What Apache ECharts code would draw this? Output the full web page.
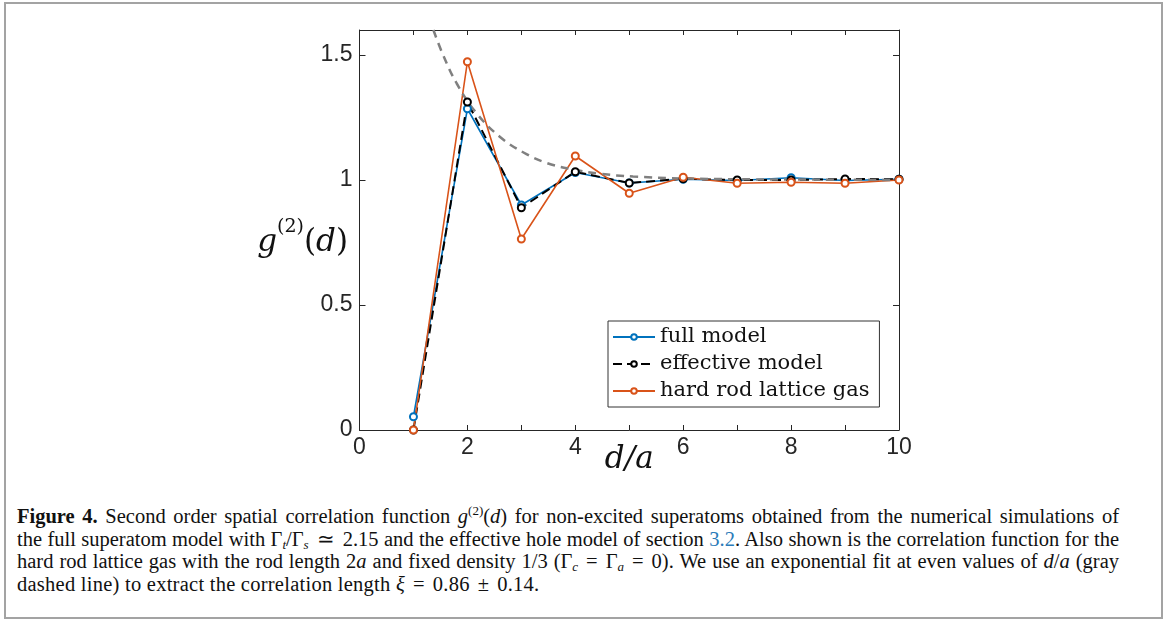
<!DOCTYPE html>
<html>
<head>
<meta charset="utf-8">
<script src="https://cdn.jsdelivr.net/npm/echarts@6/dist/echarts.min.js"></script>
<style>
  html, body { margin: 0; padding: 0; background: #fff; }
  #frame {
    position: absolute; left: 4px; top: 2px; width: 1155px; height: 613px;
    border: 2px solid #a3a3a3;
  }
  #chart { position: absolute; left: 0; top: 0; width: 1168px; height: 490px; }
  #caption {
    position: absolute; left: 17px; top: 505px; width: 1102px;
    font-family: "Liberation Serif", serif; font-size: 20.5px; line-height: 22.6px; color: #111;
  }
  #caption .ln { white-space: nowrap; letter-spacing: 0.25px; }
  #caption .j { text-align: justify; text-align-last: justify; white-space: normal; letter-spacing: 0; word-spacing: -2px; }
  #caption sup, #caption sub { font-size: 13px; line-height: 0; position: relative; vertical-align: baseline; }
  #caption sup { top: -8px; }
  #caption sub { top: 3px; }
  #caption .ref { color: #2b7bb9; }
  #caption .op { margin: 0 5px; }
  #caption .ln .op { margin: 0 8px; }
</style>
</head>
<body>
<div id="frame"></div>
<div id="chart"></div>
<div id="caption">
  <div class="ln j"><b>Figure 4.</b> Second order spatial correlation function <i>g</i><sup>(2)</sup>(<i>d</i>) for non-excited superatoms obtained from the numerical simulations of</div>
  <div class="ln j">the full superatom model with Γ<sub><i>t</i></sub>/Γ<sub><i>s</i></sub><span class="op">≃</span>2.15 and the effective hole model of section <span class="ref">3.2</span>. Also shown is the correlation function for the</div>
  <div class="ln j">hard rod lattice gas with the rod length 2<i>a</i> and fixed density 1/3 (Γ<sub><i>c</i></sub><span class="op">=</span>Γ<sub><i>a</i></sub><span class="op">=</span>0). We use an exponential fit at even values of <i>d</i>/<i>a</i> (gray</div>
  <div class="ln">dashed line) to extract the correlation length <i>ξ</i><span class="op">=</span>0.86<span class="op">±</span>0.14.</div>
</div>
<script>
// distances d/a
const dist = [1, 2, 3, 4, 5, 6, 7, 8, 9, 10];
// g2 values
const fullModel = [0.053, 1.285, 0.900, 1.030, 0.988, 1.003, 0.998, 1.009, 0.998, 1.003];
const effectiveModel = [0.0, 1.312, 0.889, 1.033, 0.988, 1.005, 1.000, 1.000, 1.004, 1.003];
const hardRod = [0.0, 1.473, 0.764, 1.096, 0.947, 1.011, 0.987, 0.991, 0.987, 1.000];
// gray dashed exponential fit
const fitX = [1.37, 1.55, 1.80, 2.17, 2.60, 3.04, 3.47, 3.96, 4.46, 5.07, 6, 7, 8, 9, 10];
const fitY = [1.600, 1.500, 1.387, 1.267, 1.173, 1.110, 1.068, 1.042, 1.025, 1.014, 1.006, 1.003, 1.002, 1.001, 1.000];
const yTicks = [0, 0.5, 1, 1.5];

const pairs = (xs, ys) => xs.map((x, i) => [x, ys[i]]);

const axisColor = '#262626';
const tickFont = { color: axisColor, fontFamily: 'Liberation Sans', fontSize: 23 };

const myChart = echarts.init(document.getElementById('chart'));
const option = {
  backgroundColor: 'transparent',
  animation: false,
  grid: { left: 359.5, right: 269, top: 30, bottom: 60, containLabel: false, outerBoundsMode: 'none' },
  xAxis: [
    {
      type: 'value', min: 0, max: 10, interval: 1, position: 'bottom',
      name: 'd/a', nameLocation: 'middle', nameGap: 14, nameMoveOverlap: false,
      nameTextStyle: { fontFamily: 'DejaVu Serif', fontStyle: 'italic', fontSize: 31, color: '#111' },
      axisLine: { onZero: false, lineStyle: { color: axisColor, width: 1 } },
      axisTick: { inside: true, length: 5, lineStyle: { color: axisColor } },
      axisLabel: Object.assign({ margin: 6, formatter: v => (v % 2 === 0 ? String(v) : '') }, tickFont),
      splitLine: { show: false }
    },
    {
      type: 'value', min: 0, max: 10, interval: 1, position: 'top',
      axisLine: { onZero: false, lineStyle: { color: axisColor, width: 1 } },
      axisTick: { inside: true, length: 5, lineStyle: { color: axisColor } },
      axisLabel: { show: false },
      splitLine: { show: false }
    }
  ],
  yAxis: [
    {
      type: 'value', min: 0, max: 1.6, interval: 0.5, position: 'left',
      axisLine: { show: true, onZero: false, lineStyle: { color: axisColor, width: 1 } },
      axisTick: { show: true, inside: true, length: 6, lineStyle: { color: axisColor } },
      axisLabel: Object.assign({ margin: 7, formatter: v => (yTicks.indexOf(v) >= 0 ? String(v) : '') }, tickFont),
      splitLine: { show: false }
    },
    {
      type: 'value', min: 0, max: 1.6, interval: 0.5, position: 'right',
      axisLine: { show: true, onZero: false, lineStyle: { color: axisColor, width: 1 } },
      axisTick: { show: true, inside: true, length: 6, lineStyle: { color: axisColor } },
      axisLabel: { show: false },
      splitLine: { show: false }
    }
  ],
  legend: {
    orient: 'vertical', left: 608, top: 321,
    data: ['full model', 'effective model', 'hard rod lattice gas'],
    backgroundColor: '#fff', borderColor: '#333', borderWidth: 1, borderRadius: 0,
    padding: [4, 10, 4, 4], itemGap: 3, itemWidth: 42, itemHeight: 7,
    textStyle: { fontFamily: 'DejaVu Serif', fontSize: 21, color: '#111', lineHeight: 24 }
  },
  series: [
    {
      name: 'full model', type: 'line', xAxisIndex: 0, yAxisIndex: 0,
      data: pairs(dist, fullModel),
      symbol: 'emptyCircle', symbolSize: 7,
      lineStyle: { color: '#0072BD', width: 1.6 },
      itemStyle: { color: '#0072BD', borderWidth: 1.2 }
    },
    {
      name: 'effective model', type: 'line', xAxisIndex: 0, yAxisIndex: 0,
      data: pairs(dist, effectiveModel),
      symbol: 'emptyCircle', symbolSize: 7,
      lineStyle: { color: '#000', width: 2, type: [9, 5] },
      itemStyle: { color: '#000', borderWidth: 1.2 }
    },
    {
      name: 'hard rod lattice gas', type: 'line', xAxisIndex: 0, yAxisIndex: 0,
      data: pairs(dist, hardRod),
      symbol: 'emptyCircle', symbolSize: 7,
      lineStyle: { color: '#D95319', width: 1.6 },
      itemStyle: { color: '#D95319', borderWidth: 1.2 }
    },
    {
      name: 'fit', type: 'line', xAxisIndex: 0, yAxisIndex: 0,
      data: pairs(fitX, fitY),
      smooth: 0.4, showSymbol: false, symbol: 'none',
      lineStyle: { color: '#808080', width: 2.5, type: [8, 6] },
      z: 3
    }
  ],
  graphic: [
    {
      type: 'text', right: 1168 - 348, top: 218,
      style: {
        text: '{i|g}{s|(2)}{n|(}{i|d}{n|)}',
        rich: {
          i: { fontFamily: 'DejaVu Serif', fontStyle: 'italic', fontSize: 31, lineHeight: 40, verticalAlign: 'bottom', fill: '#111' },
          n: { fontFamily: 'DejaVu Serif', fontSize: 31, lineHeight: 40, verticalAlign: 'bottom', fill: '#111' },
          s: { fontFamily: 'DejaVu Serif', fontSize: 19, lineHeight: 22, verticalAlign: 'top', fill: '#111' }
        }
      }
    }
  ]
};
myChart.setOption(option);
</script>
</body>
</html>
